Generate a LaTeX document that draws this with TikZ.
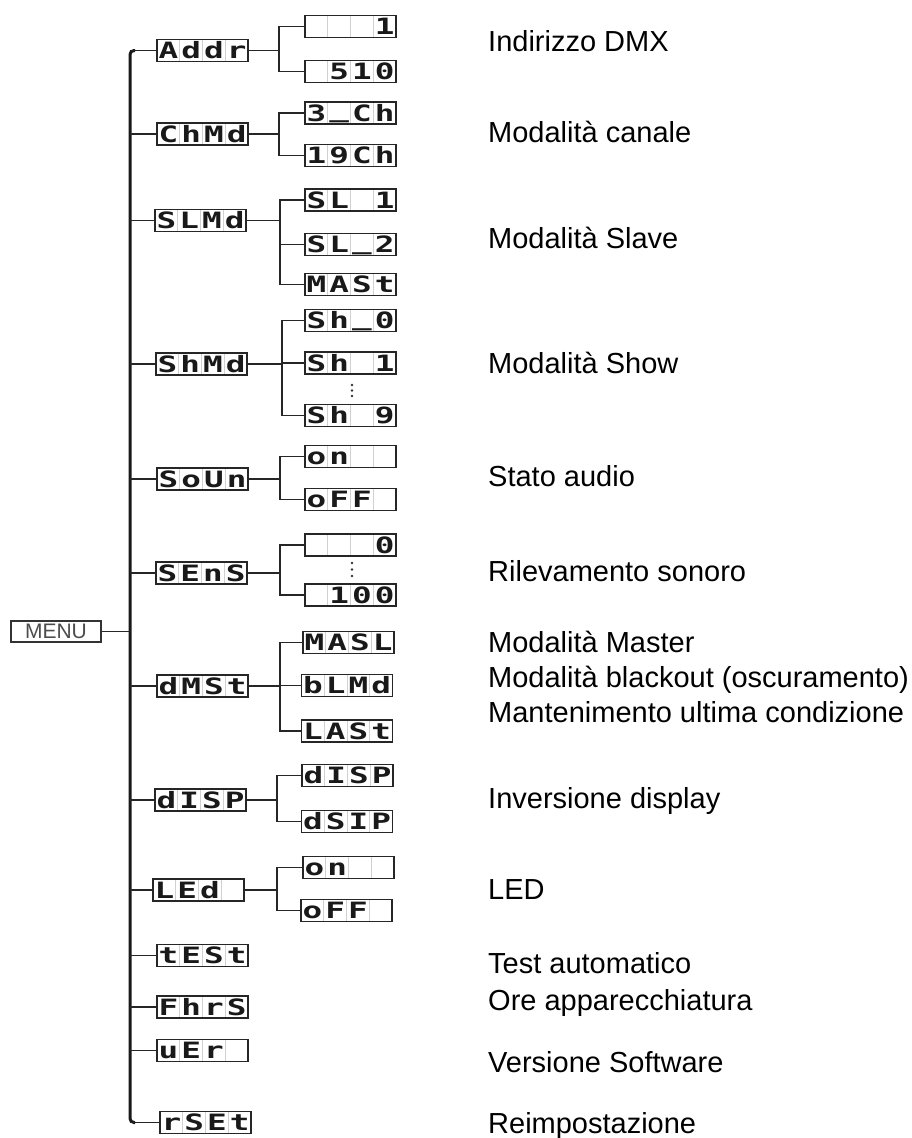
\documentclass[tikz,border=0pt]{standalone}
\usepackage{fontspec}
\usepackage{graphicx}
\setmainfont{Liberation Sans}
\newfontfamily\lcdfont{DejaVu Sans Mono}
\usetikzlibrary{calc}
\newcommand{\lcdcell}[1]{\makebox[22.75pt]{\scalebox{1.45}[1]{#1}}}
\newcommand{\lcd}[4]{\lcdcell{#1}\lcdcell{#2}\lcdcell{#3}\lcdcell{#4}}
\newcommand{\us}{\raisebox{3.5pt}{\_}}
\tikzset{
  x=1pt, y=-1pt,
  lcdbox/.style={draw=black!85, line width=1.1pt, minimum width=91pt, minimum height=22pt,
    inner sep=0pt, text height=16.5pt, text depth=0pt,
    font=\lcdfont\bfseries\fontsize{22.5}{22.5}\selectfont, text=black!90,
    path picture={
      \foreach \f in {0.25,0.5,0.75}
        \draw[black!18, line width=0.8pt]
          ($(path picture bounding box.south west)!\f!(path picture bounding box.south east)$) --
          ($(path picture bounding box.north west)!\f!(path picture bounding box.north east)$);
    }},
  branch/.style={line width=1.3pt, black!85},
  trunk/.style={line width=3pt, black!90},
  desc/.style={anchor=base west, inner sep=0pt, font=\fontsize{29}{29}\selectfont},
  dot/.style={fill=black!80},
}
\begin{document}
\begin{tikzpicture}
\useasboundingbox (0,0) rectangle (912,1138);
% MENU
\node[draw=black!80, line width=1.1pt, minimum width=90pt, minimum height=21pt, inner sep=0pt,
  font=\fontsize{21}{21}\selectfont, text=black!70] (menu) at (56,631.5) {MENU};
\coordinate (T) at (130,0);
% level 1
\node[lcdbox] (addr) at (202.5,50.5) {\lcd{A}{d}{d}{r}};
\node[lcdbox] (chmd) at (202.5,134) {\lcd{C}{h}{M}{d}};
\node[lcdbox] (slmd) at (200.5,220.5) {\lcd{S}{L}{M}{d}};
\node[lcdbox] (shmd) at (201.5,364) {\lcd{S}{h}{M}{d}};
\node[lcdbox] (soun) at (202.5,479) {\lcd{S}{o}{U}{n}};
\node[lcdbox] (sens) at (201.5,573) {\lcd{S}{E}{n}{S}};
\node[lcdbox] (dmst) at (202.5,686) {\lcd{d}{M}{S}{t}};
\node[lcdbox] (disp) at (200.5,800) {\lcd{d}{I}{S}{P}};
\node[lcdbox] (led) at (198.5,890) {\lcd{L}{E}{d}{}};
\node[lcdbox] (test) at (202.5,955.5) {\lcd{t}{E}{S}{t}};
\node[lcdbox] (fhrs) at (202.5,1007) {\lcd{F}{h}{r}{S}};
\node[lcdbox] (ver) at (202.5,1050.5) {\lcd{u}{E}{r}{}};
\node[lcdbox] (rset) at (205.5,1122.5) {\lcd{r}{S}{E}{t}};
% trunk
\draw[trunk, rounded corners=4pt] ($(addr.west -| T)+(5,0)$) -- (addr.west -| T) -- (rset.west -| T) -- ++(5,0);
\draw[branch] (menu.east) -- (menu.east -| T);
\foreach \n in {addr,chmd,slmd,shmd,soun,sens,dmst,disp,led,test,fhrs,ver,rset}
  \draw[branch] (\n.west -| T) -- (\n.west);
% level 2
\node[lcdbox] (a1) at (350.5,26.5) {\lcd{}{}{}{1}};
\node[lcdbox] (a2) at (350.5,71.5) {\lcd{}{5}{1}{0}};
\node[lcdbox] (c1) at (350.5,113) {\lcd{3}{\us}{C}{h}};
\node[lcdbox] (c2) at (350.5,155.5) {\lcd{1}{9}{C}{h}};
\node[lcdbox] (s1) at (350.5,200) {\lcd{S}{L}{}{1}};
\node[lcdbox] (s2) at (350.5,244.5) {\lcd{S}{L}{\us}{2}};
\node[lcdbox] (s3) at (350.5,284.5) {\lcd{M}{A}{S}{t}};
\node[lcdbox] (h1) at (350.5,320.5) {\lcd{S}{h}{\us}{0}};
\node[lcdbox] (h2) at (350.5,363) {\lcd{S}{h}{}{1}};
\node[lcdbox] (h3) at (350.5,415.5) {\lcd{S}{h}{}{9}};
\node[lcdbox] (o1) at (350.5,456.5) {\lcd{o}{n}{}{}};
\node[lcdbox] (o2) at (350.5,499.5) {\lcd{o}{F}{F}{}};
\node[lcdbox] (e1) at (350.5,545) {\lcd{}{}{}{0}};
\node[lcdbox] (e2) at (350.5,595) {\lcd{}{1}{0}{0}};
\node[lcdbox] (m1) at (348.5,642.5) {\lcd{M}{A}{S}{L}};
\node[lcdbox] (m2) at (347,685.5) {\lcd{b}{L}{M}{d}};
\node[lcdbox] (m3) at (347,731) {\lcd{L}{A}{S}{t}};
\node[lcdbox] (d1) at (347.5,775.5) {\lcd{d}{I}{S}{P}};
\node[lcdbox] (d2) at (347,821.5) {\lcd{d}{S}{I}{P}};
\node[lcdbox] (l1) at (348.5,867.5) {\lcd{o}{n}{}{}};
\node[lcdbox] (l2) at (346.5,910.5) {\lcd{o}{F}{F}{}};
% spines
\coordinate (SA) at (279,0);
\coordinate (SC) at (279,0);
\coordinate (SS) at (280,0);
\coordinate (SH) at (282,0);
\coordinate (SO) at (280,0);
\coordinate (SE) at (280,0);
\coordinate (SM) at (280,0);
\coordinate (SD) at (277,0);
\coordinate (SL) at (277,0);
\foreach \p/\s/\a/\b in {addr/SA/a1/a2, chmd/SC/c1/c2, slmd/SS/s1/s3, shmd/SH/h1/h3,
    soun/SO/o1/o2, sens/SE/e1/e2, dmst/SM/m1/m3, disp/SD/d1/d2, led/SL/l1/l2} {
  \draw[branch] (\p.east) -- (\p.east -| \s);
  \draw[branch] (\a.west) -- (\a.west -| \s) -- (\b.west -| \s) -- (\b.west);
}
\foreach \c/\s in {s2/SS, h2/SH, m2/SM}
  \draw[branch] (\c.west -| \s) -- (\c.west);
% dots
\foreach \y in {385,390.5,396} \fill[dot] (352,\y) circle (1.3);
\foreach \y in {563,569.5,576} \fill[dot] (352,\y) circle (1.3);
% descriptions
\node[desc] (t1) at (488,51) {Indirizzo DMX};
\node[desc] (t2) at (488,142) {Modalità canale};
\node[desc] (t3) at (488,248) {Modalità Slave};
\node[desc] (t4) at (488,373) {Modalità Show};
\node[desc] (t5) at (488,486) {Stato audio};
\node[desc] (t6) at (488,581) {Rilevamento sonoro};
\node[desc] (t7) at (488,652) {Modalità Master};
\node[desc] (t8) at (488,687) {Modalità blackout (oscuramento)};
\node[desc] (t9) at (488,722) {Mantenimento ultima condizione};
\node[desc] (t10) at (488,808) {Inversione display};
\node[desc] (t11) at (488,899) {LED};
\node[desc] (t12) at (488,973) {Test automatico};
\node[desc] (t13) at (488,1010) {Ore apparecchiatura};
\node[desc] (t14) at (488,1072) {Versione Software};
\node[desc] (t15) at (488,1133) {Reimpostazione};
\end{tikzpicture}
\end{document}
